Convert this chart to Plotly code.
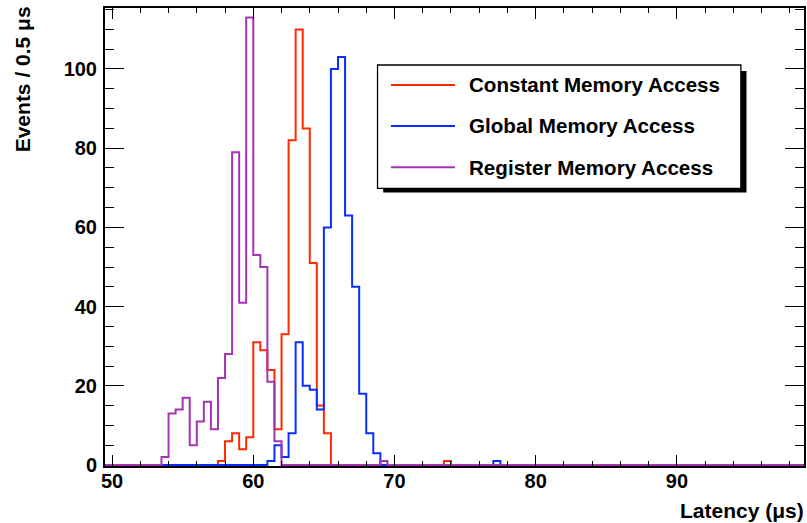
import numpy as np
import plotly.graph_objects as go

# ---------------- data ----------------
bin_width = 0.5
hist_lo = 49.5
hist_hi = 100.0

series_names = ["Constant Memory Access", "Global Memory Access", "Register Memory Access"]
series_colors = ["#ff2a00", "#0a2eff", "#a534b3"]

constant_start = 57.5
constant_counts = [1, 6, 8, 4, 7, 31, 29, 24, 9, 33, 82, 110, 85, 51, 15, 8]
constant_extra_bins = [73.5]
constant_extra_counts = [1]

global_start = 61.0
global_counts = [1, 5, 2, 8, 31, 20, 19, 14, 60, 100, 103, 63, 45, 18, 8, 3]
global_extra_bins = [77.0]
global_extra_counts = [1]

register_start = 53.5
register_counts = [2, 13, 14, 17, 5, 11, 16, 9, 22, 28, 79, 41, 113, 53, 50, 21, 6]
register_extra_bins = [69.0]
register_extra_counts = [1]

x_tick_vals = [50, 60, 70, 80, 90]
y_tick_vals = [0, 20, 40, 60, 80, 100]

# ---------------- build histograms ----------------
edges = np.arange(hist_lo, hist_hi + bin_width / 2, bin_width)
nbins = len(edges) - 1


def fill(start, counts, extra_bins, extra_counts):
    h = np.zeros(nbins)
    i0 = int(round((start - hist_lo) / bin_width))
    h[i0:i0 + len(counts)] = counts
    for b, c in zip(extra_bins, extra_counts):
        h[int(round((b - hist_lo) / bin_width))] = c
    return h


hists = [
    fill(constant_start, constant_counts, constant_extra_bins, constant_extra_counts),
    fill(global_start, global_counts, global_extra_bins, global_extra_counts),
    fill(register_start, register_counts, register_extra_bins, register_extra_counts),
]

fig = go.Figure()
for name, color, h in zip(series_names, series_colors, hists):
    fig.add_trace(go.Scatter(
        x=edges, y=np.append(h, h[-1]), mode="lines", name=name,
        line=dict(color=color, width=2, shape="hv"), hoverinfo="skip",
    ))

FONT = "Liberation Sans, Arial, Helvetica, sans-serif"

fig.update_layout(
    width=807, height=523,
    margin=dict(l=105, r=1, t=8, b=57),
    plot_bgcolor="white", paper_bgcolor="white",
    showlegend=False,
    font=dict(family=FONT, size=20, color="black", weight="bold"),
    xaxis=dict(
        range=[49.5, 99.0], tickvals=x_tick_vals, ticks="inside", ticklen=11,
        tickwidth=1, tickcolor="black", ticklabelstandoff=-4,
        minor=dict(dtick=2, tick0=50, ticks="inside", ticklen=5, tickwidth=1, tickcolor="black"),
        showline=True, linewidth=2, linecolor="black", mirror="allticks",
        showgrid=False, zeroline=False,
        tickfont=dict(family=FONT, size=20, color="black", weight="bold"),
    ),
    yaxis=dict(
        range=[-0.25, 115.4], tickvals=y_tick_vals, ticks="inside", ticklen=19,
        tickwidth=1, tickcolor="black", ticklabelstandoff=2,
        minor=dict(dtick=5, tick0=0, ticks="inside", ticklen=9, tickwidth=1, tickcolor="black"),
        showline=True, linewidth=2, linecolor="black", mirror="allticks",
        showgrid=False, zeroline=False,
        tickfont=dict(family=FONT, size=20, color="black", weight="bold"),
    ),
)

# axis titles (ROOT style: right-aligned / top-aligned)
fig.add_annotation(text="Latency (μs)", xref="paper", yref="paper", x=1.003, y=-0.097,
                   xanchor="right", yanchor="middle", showarrow=False,
                   font=dict(family=FONT, size=21, color="black", weight="bold"))
fig.add_annotation(text="Events / 0.5 μs", xref="paper", yref="paper", x=-0.118, y=1.007,
                   xanchor="center", yanchor="top", textangle=-90, showarrow=False,
                   font=dict(family=FONT, size=21, color="black", weight="bold"))

# legend box with shadow
fig.add_shape(type="rect", xref="paper", yref="paper", x0=0.398, x1=0.9177, y0=0.5972, y1=0.8624,
              fillcolor="black", line=dict(width=0))
fig.add_shape(type="rect", xref="paper", yref="paper", x0=0.3899, x1=0.9097, y0=0.6063, y1=0.8755,
              fillcolor="white", line=dict(color="black", width=1.3))
legend_y = [0.8319, 0.7424, 0.6522]
for name, color, ly in zip(series_names, series_colors, legend_y):
    fig.add_shape(type="line", xref="paper", yref="paper", x0=0.409, x1=0.5007, y0=ly, y1=ly,
                  line=dict(color=color, width=2))
    fig.add_annotation(text=name, xref="paper", yref="paper", x=0.518, y=ly,
                       xanchor="left", yanchor="middle", showarrow=False,
                       font=dict(family=FONT, size=20.6, color="black", weight="bold"))

fig.write_html(
    "out.html",
    config={"displayModeBar": False},
    post_script="document.body.style.margin='0';document.body.style.padding='0';document.body.style.overflow='hidden';",
)
